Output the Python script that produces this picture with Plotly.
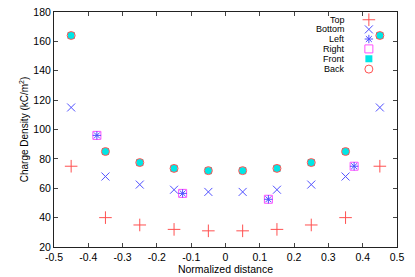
import plotly.graph_objects as go

# ---- data ----
x_main = [-0.45, -0.35, -0.25, -0.15, -0.05, 0.05, 0.15, 0.25, 0.35, 0.45]
top_vals = [75, 40, 35, 32, 31, 31, 32, 35, 40, 75]
bottom_vals = [115, 68, 62.5, 59, 57.5, 57.5, 59, 62.5, 68, 115]
x_side = [-0.375, -0.125, 0.125, 0.375]
left_vals = [96, 56.5, 52.5, 75]
right_vals = [96, 56.5, 52.5, 75]
front_vals = [164, 85, 77.5, 73.5, 72, 72, 73.5, 77.5, 85, 164]
back_vals = [164, 85, 77.5, 73.5, 72, 72, 73.5, 77.5, 85, 164]

series_names = ["Top", "Bottom", "Left", "Right", "Front", "Back"]
x_ticks = [-0.5, -0.4, -0.3, -0.2, -0.1, 0, 0.1, 0.2, 0.3, 0.4, 0.5]
y_ticks = [20, 40, 60, 80, 100, 120, 140, 160, 180]
X_RANGE = [-0.5, 0.5]
Y_RANGE = [20, 180]

RED = "#ff5050"
BLUE = "#5050ff"
MAG = "#ff50ff"
CYAN = "#00e6e6"

styles = {
    "Top": dict(symbol="cross-thin", size=9, color=RED, line=dict(width=1, color=RED)),
    "Bottom": dict(symbol="x-thin", size=8, color=BLUE, line=dict(width=1, color=BLUE)),
    "Left": dict(symbol="asterisk", size=7, color=BLUE, line=dict(width=1, color=BLUE)),
    "Right": dict(symbol="square-open", size=8, color=MAG, line=dict(width=1, color=MAG)),
    "Front": dict(symbol="square", size=7, color=CYAN, line=dict(width=0, color=CYAN)),
    "Back": dict(symbol="circle-open", size=8, color=RED, line=dict(width=1, color=RED)),
}

fig = go.Figure()
data_map = {
    "Top": (x_main, top_vals),
    "Bottom": (x_main, bottom_vals),
    "Right": (x_side, right_vals),
    "Left": (x_side, left_vals),
    "Front": (x_main, front_vals),
    "Back": (x_main, back_vals),
}
for name in ["Top", "Bottom", "Right", "Left", "Front", "Back"]:
    xs, ys = data_map[name]
    fig.add_trace(go.Scatter(x=xs, y=ys, mode="markers", name=name,
                             marker=styles[name], showlegend=False, cliponaxis=False))

# manual legend (text right-aligned, symbol on the right)
row_y = [0.967, 0.926, 0.885, 0.843, 0.801, 0.757]
sym_x = 0.918
for name, ry in zip(series_names, row_y):
    lx = X_RANGE[0] + sym_x * (X_RANGE[1] - X_RANGE[0])
    ly = Y_RANGE[0] + ry * (Y_RANGE[1] - Y_RANGE[0])
    fig.add_trace(go.Scatter(x=[lx], y=[ly], mode="markers", marker=styles[name],
                             showlegend=False, hoverinfo="skip"))
    fig.add_annotation(x=0.855, y=ry, xref="paper", yref="paper", text=name,
                       showarrow=False, xanchor="right", yanchor="middle",
                       font=dict(family="Liberation Sans", size=9, color="#000"))

axis_font = dict(family="Liberation Sans", size=10.5, color="#000")
fig.update_layout(
    width=415, height=277,
    margin=dict(l=54, r=18, t=12, b=30),
    paper_bgcolor="white", plot_bgcolor="white",
    font=dict(family="Liberation Sans", size=10, color="#000"),
    xaxis=dict(range=X_RANGE, tickvals=x_ticks,
               ticktext=[f"{v:g}" for v in x_ticks],
               showgrid=False, zeroline=False, showline=True, linecolor="#222",
               linewidth=1, mirror="allticks", ticks="inside", ticklen=4,
               tickcolor="#444", tickfont=axis_font, automargin=False,
               title=dict(text="Normalized distance", font=axis_font, standoff=4)),
    yaxis=dict(range=Y_RANGE, tickvals=y_ticks,
               showgrid=False, zeroline=False, showline=True, linecolor="#222",
               linewidth=1, mirror="allticks", ticks="inside", ticklen=4,
               tickcolor="#444", tickfont=axis_font, automargin=False,
               title=dict(text="Charge Density (kC/m<sup>2</sup>)",
                          font=dict(family="Liberation Sans", size=10, color="#000"), standoff=2)),
)

fig.write_html(
    "out.html",
    config={"displayModeBar": False},
    post_script="document.body.style.margin='0';document.body.style.overflow='hidden';",
)
